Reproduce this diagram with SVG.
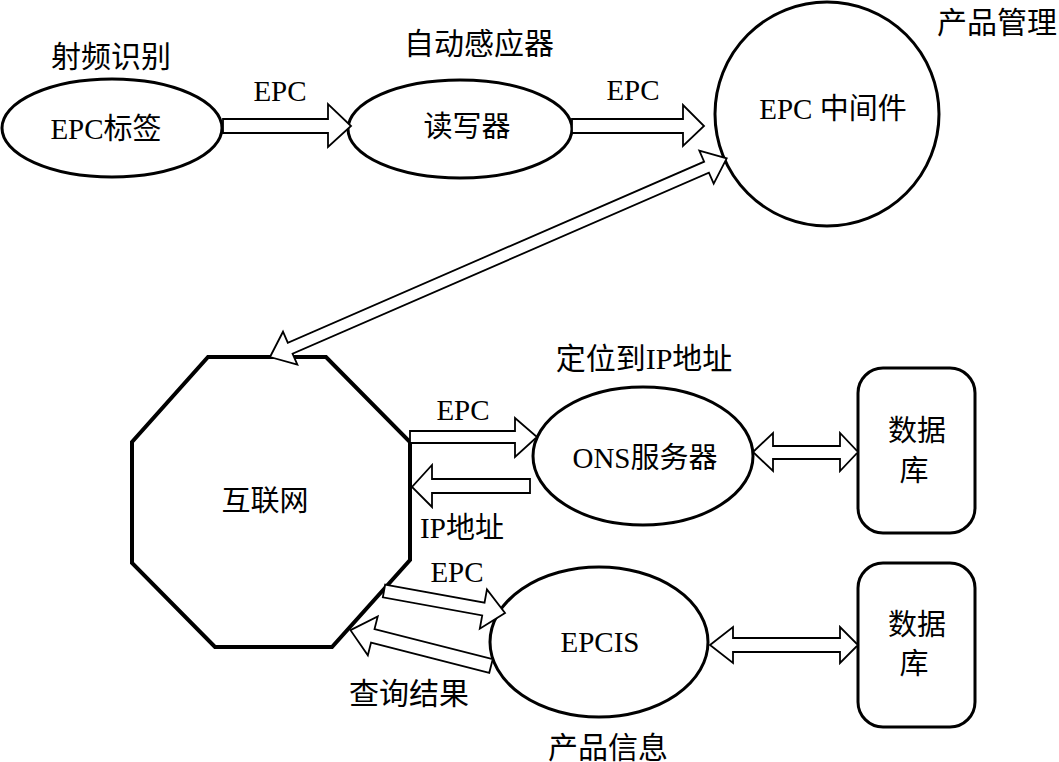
<svg xmlns="http://www.w3.org/2000/svg" width="1059" height="762" viewBox="0 0 1059 762">
<style>
.node{fill:#fff;stroke:#000;stroke-width:3}
.oct{fill:#fff;stroke:#000;stroke-width:4}
.arr{fill:#fff;stroke:#000;stroke-width:1.8;stroke-linejoin:miter}
text{font-family:"Liberation Serif","Noto Sans CJK SC",serif;font-size:29px;fill:#000;text-anchor:middle}
.cjk{font-size:30px}
</style>
<rect width="1059" height="762" fill="#fff"/>
<g id="tag"><ellipse class="node" cx="112" cy="128" rx="110" ry="49"/><text x="106" y="139">EPC标签</text></g>
<g id="reader"><ellipse class="node" cx="460" cy="129" rx="112" ry="49"/><text x="467" y="137">读写器</text></g>
<g id="middleware"><circle class="node" cx="827" cy="114" r="112"/><text x="833" y="119">EPC 中间件</text></g>
<g id="internet"><polygon class="oct" points="208,357 326,357 410,442 410,560 332,647 215,647 132,563 132,442"/><text x="265" y="511">互联网</text></g>
<g id="ons"><ellipse class="node" cx="643" cy="456" rx="110" ry="69"/><text x="645" y="468">ONS服务器</text></g>
<g id="epcis"><ellipse class="node" cx="599" cy="642" rx="109" ry="75"/><text x="600" y="652">EPCIS</text></g>
<g id="db1"><rect class="node" x="858" y="368" width="117" height="165" rx="25"/><text x="917" y="441">数据</text><text x="914" y="481">库</text></g>
<g id="db2"><rect class="node" x="858" y="563" width="117" height="164" rx="25"/><text x="917" y="635">数据</text><text x="914" y="674">库</text></g>
<g id="connectors">
<polygon class="arr" points="223,119 328,119 328,104 351,126 328,147 328,133 223,133"/>
<polygon class="arr" points="572,119 683,119 683,105 704,126 683,146 683,133 572,133"/>
<polygon class="arr" transform="translate(270,357) rotate(-23.5)" points="0,0 22,-18 22,-6 476,-6 476,-18 498,0 476,18 476,6 22,6 22,18"/>
<polygon class="arr" points="410,431 515,431 515,418 537,437 515,457 515,443 410,443"/>
<polygon class="arr" points="530,479 432,479 432,465 412,487 432,507 432,493 530,493"/>
<polygon class="arr" points="753,452 773,433 773,446 840,446 840,433 858,452 840,471 840,459 773,459 773,471"/>
<polygon class="arr" points="710,645 733,627 733,638 840,638 840,627 858,645 840,663 840,652 733,652 733,663"/>
<polygon class="arr" transform="translate(384,591) rotate(10.3)" points="0,-6.5 101,-6.5 101,-20 123,0 101,20 101,6.5 0,6.5"/>
<polygon class="arr" transform="translate(491,666) rotate(194.3)" points="0,-7 122,-7 122,-20 145,0 122,20 122,7 0,7"/>
</g>
<g id="labels">
<text class="cjk" x="111" y="67">射频识别</text>
<text class="cjk" x="479" y="54">自动感应器</text>
<text class="cjk" x="997" y="33">产品管理</text>
<text x="280" y="101">EPC</text>
<text x="633" y="100">EPC</text>
<text class="cjk" x="644" y="369">定位到IP地址</text>
<text x="463" y="420">EPC</text>
<text x="462" y="538">IP地址</text>
<text x="457" y="582">EPC</text>
<text class="cjk" x="409" y="704">查询结果</text>
<text class="cjk" x="608" y="758">产品信息</text>
</g>
</svg>
